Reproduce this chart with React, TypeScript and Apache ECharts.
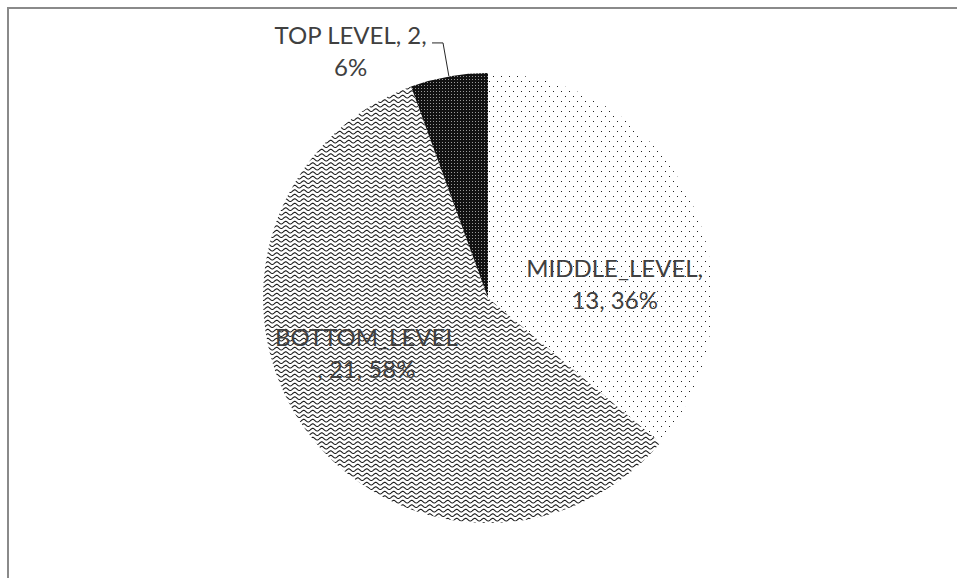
import React, { useEffect, useRef } from "react";
import * as echarts from "echarts";

const categories = ["MIDDLE_LEVEL", "BOTTOM_LEVEL", "TOP LEVEL"];
const counts = [13, 21, 2];
// where each label's line break falls (template using {b} name, {c} value, {d} percent)
const labelTemplates = ["{b},\n{c}, {d}%", "{b}\n, {c}, {d}%", "{b}, {c},\n{d}%"];

const labelShift = [{ dx: 22, dy: 34 }, { dx: -27, dy: -12 }, {}];

function makeTile(w: number, h: number, draw: (ctx: CanvasRenderingContext2D) => void) {
  const c = document.createElement("canvas");
  c.width = w;
  c.height = h;
  const ctx = c.getContext("2d") as CanvasRenderingContext2D;
  draw(ctx);
  return { image: c, repeat: "repeat", imageWidth: w, imageHeight: h };
}

function dotsPattern() {
  return makeTile(8, 10, (ctx) => {
    ctx.fillStyle = "#ffffff";
    ctx.fillRect(0, 0, 8, 10);
    ctx.fillStyle = "#222222";
    ctx.fillRect(1, 1, 1, 1);
    ctx.fillRect(5, 6, 1, 1);
  });
}

function wavePattern() {
  const w = 9;
  const h = 9;
  return makeTile(w, h, (ctx) => {
    ctx.fillStyle = "#ffffff";
    ctx.fillRect(0, 0, w, h);
    ctx.strokeStyle = "#1a1a1a";
    ctx.lineWidth = 1.1;
    [2.2, 6.7].forEach((y0) => {
      ctx.beginPath();
      for (let x = -1; x <= w + 1; x += 0.5) {
        const y = y0 + Math.sin((2 * Math.PI * x) / w) * 1.3;
        if (x === -1) ctx.moveTo(x, y);
        else ctx.lineTo(x, y);
      }
      ctx.stroke();
    });
  });
}

function darkPattern() {
  return makeTile(3, 3, (ctx) => {
    ctx.fillStyle = "#111111";
    ctx.fillRect(0, 0, 3, 3);
    ctx.fillStyle = "#9a9a9a";
    ctx.fillRect(1, 1, 1, 1);
  });
}

export default function App() {
  const ref = useRef<HTMLDivElement>(null);

  useEffect(() => {
    if (!ref.current) return;
    const chart = echarts.init(ref.current, null, { renderer: "svg" });
    const patterns = [dotsPattern(), wavePattern(), darkPattern()];
    const font = "Lato, 'Open Sans', sans-serif";

    const data = categories.map((name, i) => ({
      name,
      value: counts[i],
      itemStyle: { color: patterns[i] as any },
      label: {
        position: i === 2 ? "outside" : "inside",
        padding: i === 2 ? [16, 0, 0, 0] : 0,
        formatter: (p: any) => {
          const txt = labelTemplates[i]
            .replace("{b}", p.name)
            .replace("{c}", String(p.value))
            .replace("{d}", String(p.percent));
          return txt
            .split("\n")
            .map((line) => "{t|" + line + "}")
            .join("\n");
        },
      },
      labelLine: { show: i === 2 },
    }));

    chart.setOption({
      animation: false,
      backgroundColor: "#ffffff",
      graphic: [
        {
          type: "rect",
          shape: { x: 8, y: 8, width: 1200, height: 1200 },
          style: { fill: "none", stroke: "#8a8a8a", lineWidth: 2 },
          silent: true,
          z: 0,
        },
      ],
      series: [
        {
          type: "pie",
          center: [488, 298],
          radius: 225,
          startAngle: 90,
          clockwise: true,
          percentPrecision: 0,
          avoidLabelOverlap: false,
          silent: true,
          emphasis: { disabled: true },
          itemStyle: { borderWidth: 0 },
          label: {
            show: true,
            color: "#404040",
            fontFamily: font,
            fontSize: 24,
            lineHeight: 32,
            rich: {
              t: {
                align: "center",
                color: "#404040",
                fontFamily: font,
                fontSize: 24,
                lineHeight: 32,
              },
            },
          },
          labelLine: {
            show: true,
            length: 34,
            length2: 11,
            smooth: false,
            lineStyle: { color: "#262626", width: 1 },
          },
          labelLayout: (params: any) => labelShift[params.dataIndex] || {},
          data,
        },
      ],
    });

    return () => chart.dispose();
  }, []);

  return (
    <div
      ref={ref}
      style={{ position: "fixed", left: 0, top: 0, width: 957, height: 578 }}
    />
  );
}
